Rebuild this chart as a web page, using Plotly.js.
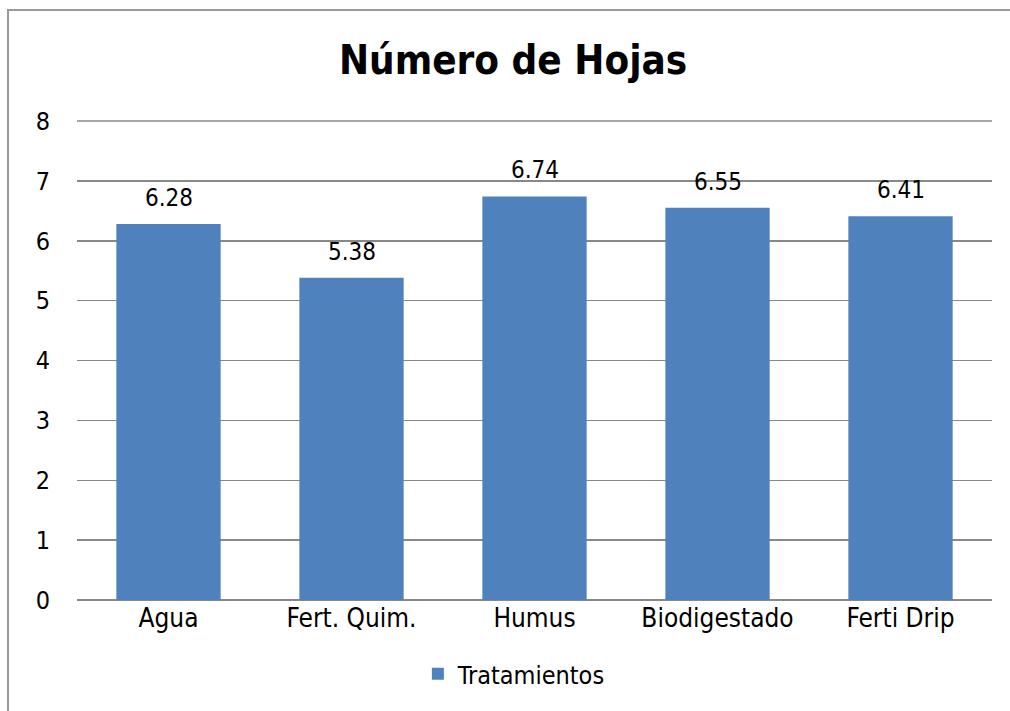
<!DOCTYPE html>
<html><head><meta charset="utf-8">
<script src="https://cdn.plot.ly/plotly-3.0.1.min.js"></script>
<style>html,body{margin:0;padding:0;background:#fff;}#chart{width:1010px;height:711px;}</style>
</head><body><div id="chart"></div>
<script>
const categories = ["Agua", "Fert. Quim.", "Humus", "Biodigestado", "Ferti Drip"];
const values = [6.28, 5.38, 6.74, 6.55, 6.41];
const seriesName = "Tratamientos";
const yTicks = [0,1,2,3,4,5,6,7,8];

const FONT = "'DejaVu Sans Condensed', 'Liberation Sans Narrow', 'Liberation Sans', sans-serif";
const W=1010,H=711,ml=77,mr=18,mt=121,mb=111;
const pw=W-ml-mr, ph=H-mt-mb;
const px=x=>(x-ml)/pw, py=y=>(H-mb-y)/ph;

const trace = {
  type:'bar', x:categories, y:values, name:seriesName,
  marker:{color:'#4F81BD'}, showlegend:true
};
const annotations = values.map((v,i)=>({
  x:categories[i], y:v, xref:'x', yref:'y', text:v.toFixed(2),
  showarrow:false, yanchor:'bottom', yshift:10,
  font:{family:FONT,size:24,color:'#000'}
}));
const layout = {
  width:W,height:H,
  margin:{l:ml,r:mr,t:mt,b:mb},
  paper_bgcolor:'#fff',plot_bgcolor:'#fff',
  title:{text:'<b>Número de Hojas</b>',font:{family:FONT,size:40,color:'#000'},x:0.508,xanchor:'center',y:0.915,yanchor:'middle'},
  bargap:0.43,
  xaxis:{type:'category',tickfont:{family:FONT,size:26,color:'#000'},showgrid:false,showline:false,ticks:'',ticklabelstandoff:0,fixedrange:true},
  yaxis:{range:[yTicks[0],yTicks[yTicks.length-1]],tickvals:yTicks,ticktext:yTicks.map(String),showgrid:true,gridcolor:'#888',gridwidth:1.5,zeroline:true,zerolinecolor:'#888',zerolinewidth:1.5,
    tickfont:{family:FONT,size:25,color:'#000'},ticks:'outside',ticklen:21,tickcolor:'rgba(0,0,0,0)',showline:false},
  legend:{orientation:'h',x:0.478,xanchor:'center',y:py(674),yanchor:'middle',font:{family:FONT,size:25,color:'#000'},itemwidth:30},
  annotations:annotations,
  shapes:[
    {type:'rect',xref:'paper',yref:'paper',x0:px(8),x1:px(1013),y0:py(716),y1:py(10),line:{color:'#999',width:2},fillcolor:'rgba(0,0,0,0)'},
    {type:'line',xref:'paper',yref:'paper',x0:0,x1:1,y0:1,y1:1,line:{color:'#888',width:1.5},layer:'below'}
  ]
};
Plotly.newPlot('chart',[trace],layout,{displayModeBar:false,staticPlot:true});
</script></body></html>
